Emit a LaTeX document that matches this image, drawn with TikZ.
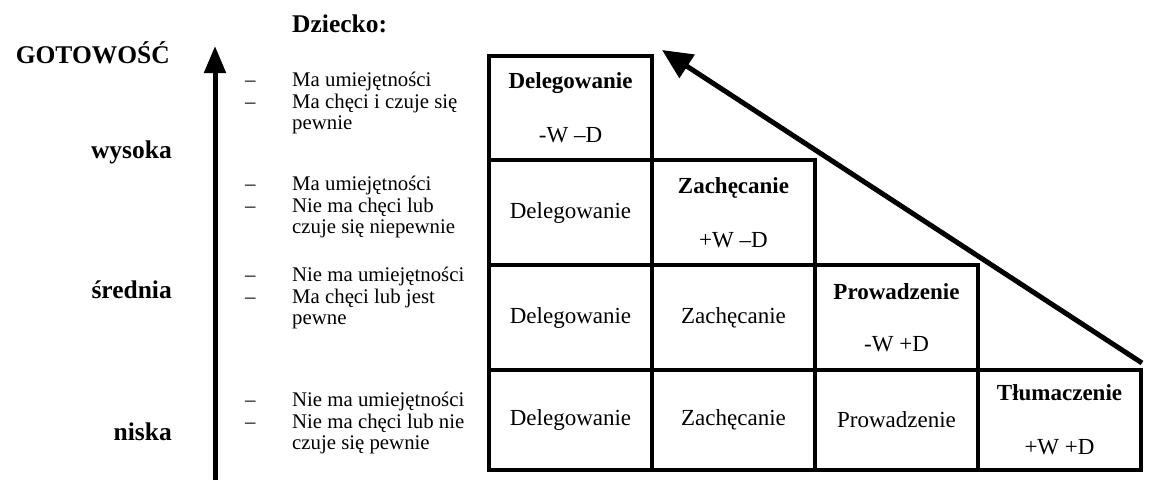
\documentclass[tikz,border=0pt]{standalone}
\usepackage{fontspec}
\setmainfont{Liberation Serif}
\usetikzlibrary{arrows.meta}
\begin{document}
\begin{tikzpicture}[x=1pt,y=-1pt,
  cell/.style={draw, line width=4pt, minimum width=163pt, inner sep=0pt, align=center, font=\fontsize{23}{26}\selectfont},
  lbl/.style={anchor=east, inner sep=0pt, font=\bfseries\fontsize{25.5}{28}\selectfont},
  grp/.style={anchor=west, inner sep=0pt, font=\fontsize{20.8}{21.5}\selectfont},
  bigarrow/.style={line width=5pt, -{Triangle[length=27pt,width=21pt]}},
  diagarrow/.style={line width=5pt, -{Triangle[length=30pt,width=27pt]}}]
\useasboundingbox (0,0) rectangle (1149,480);

% header and level labels
\node[anchor=west, inner sep=0pt, font=\bfseries\fontsize{25.5}{28}\selectfont] (dz) at (292,24) {Dziecko:};
\node[lbl] (got) at (170,53) {GOTOWOŚĆ};
\node[lbl] (wys) at (172,152) {wysoka};
\node[lbl] (sre) at (172,290) {średnia};
\node[lbl] (nis) at (172,432) {niska};

% vertical axis arrow
\coordinate (vb) at (215,480);
\coordinate (vt) at (215,46);
\draw[bigarrow] (vb) -- (vt);

% bullet groups
\node[grp] (g1) at (245,104) {\begin{tabular}{@{}p{47pt}@{}l@{}}– & Ma umiejętności\\ – & Ma chęci i czuje się\\ & pewnie\end{tabular}};
\node[grp] (g2) at (245,208) {\begin{tabular}{@{}p{47pt}@{}l@{}}– & Ma umiejętności\\ – & Nie ma chęci lub\\ & czuje się niepewnie\end{tabular}};
\node[grp] (g3) at (245,299) {\begin{tabular}{@{}p{47pt}@{}l@{}}– & Nie ma umiejętności\\ – & Ma chęci lub jest\\ & pewne\end{tabular}};
\node[grp] (g4) at (245,424) {\begin{tabular}{@{}p{47pt}@{}l@{}}– & Nie ma umiejętności\\ – & Nie ma chęci lub nie\\ & czuje się pewnie\end{tabular}};

% grid cells
\node[cell, minimum height=104pt] (c11) at (570.5,108) {\textbf{Delegowanie}\\[28pt]-W –D};

\node[cell, minimum height=105pt] (c21) at (570.5,212.5) {Delegowanie};
\node[cell, minimum height=105pt] (c22) at (733.5,212.5) {\textbf{Zachęcanie}\\[28pt]+W –D};

\node[cell, minimum height=105pt] (c31) at (570.5,317.5) {Delegowanie};
\node[cell, minimum height=105pt] (c32) at (733.5,317.5) {Zachęcanie};
\node[cell, minimum height=105pt] (c33) at (896.5,317.5) {\textbf{Prowadzenie}\\[26pt]-W +D};

\node[cell, minimum height=100pt] (c41) at (570.5,420) {Delegowanie};
\node[cell, minimum height=100pt] (c42) at (733.5,420) {Zachęcanie};
\node[cell, minimum height=100pt] (c43) at (896.5,420) {Prowadzenie};
\node[cell, minimum height=100pt] (c44) at (1059.5,420) {\textbf{Tłumaczenie}\\[28pt]+W +D};

% diagonal arrow
\coordinate (ds) at (1142,363);
\coordinate (dt) at (662,50);
\draw[diagarrow] (ds) -- (dt);
\end{tikzpicture}
\end{document}
